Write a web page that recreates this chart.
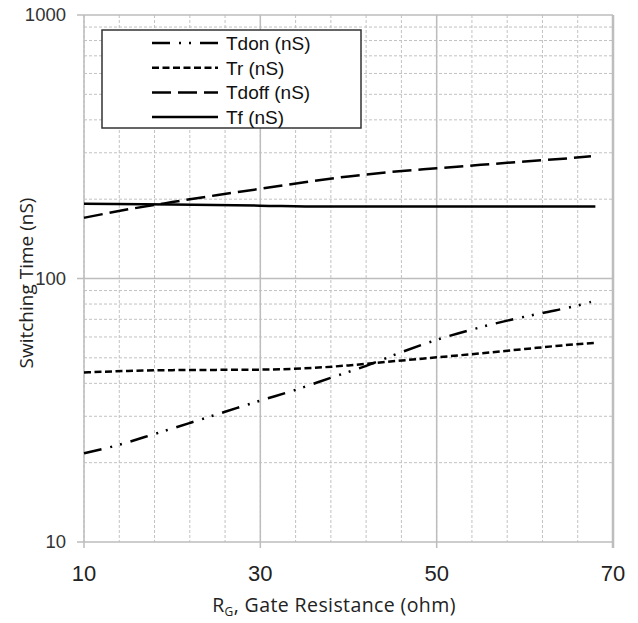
<!DOCTYPE html>
<html>
<head>
<meta charset="utf-8">
<script src="https://cdn.jsdelivr.net/npm/d3@7"></script>
<style>
  body { margin: 0; background: #fff; }
  svg { display: block; }
</style>
</head>
<body>
<div id="chart"></div>
<script>
// Data

var rgTdon = [10, 14, 18, 22, 26, 30, 34, 38, 42, 46, 50, 54, 58, 62, 66, 67.5]
var tdon = [21.7, 23.4, 25.7, 28.3, 31.2, 34.4, 37.8, 42, 46.6, 52.5, 58.5, 64, 69.2, 74, 79, 81.5]

var rgTr = [10, 15, 20, 25, 30, 35, 40, 45, 50, 55, 60, 65, 68]
var tr = [44.0, 44.6, 44.9, 45.0, 45.1, 45.6, 46.8, 48.5, 50.2, 52.0, 54.0, 56.0, 57.0]

var rgTdoff = [10, 15, 20, 25, 30, 35, 40, 45, 50, 55, 60, 65, 67.5]
var tdoff = [170, 183, 195, 207, 219, 232, 244, 254, 262, 270, 278, 286, 291]

var rgTf = [10, 20, 30, 37, 50, 68]
var tf = [192, 191, 189, 187.5, 187.5, 187.5]

var seriesNames = ['Tdon (nS)', 'Tr (nS)', 'Tdoff (nS)', 'Tf (nS)']
var xTicks = [10, 30, 50, 70]
var yTicks = [10, 100, 1000]

// Set up margin/height/width

var margin = { top: 15, left: 84, right: 25, bottom: 81 }
var width = 638 - margin.left - margin.right
var height = 623 - margin.top - margin.bottom

var svg = d3
  .select('#chart')
  .append('svg')
  .attr('width', 638)
  .attr('height', 623)

var g = svg
  .append('g')
  .attr('transform', 'translate(' + margin.left + ',' + margin.top + ')')

var xPositionScale = d3
  .scaleLinear()
  .domain([10, 70])
  .range([0, width])

var yPositionScale = d3
  .scaleLog()
  .domain([10, 1000])
  .range([height, 0])

// grid: minor dashed lines first

var xMinor = d3.range(10, 70.1, 4)
var yMinor = []
;[10, 100].forEach(function(base) {
  for (var k = 2; k <= 9; k++) yMinor.push(base * k)
})

g.selectAll('.x-minor')
  .data(xMinor)
  .enter()
  .append('line')
  .attr('class', 'x-minor')
  .attr('x1', d => xPositionScale(d))
  .attr('x2', d => xPositionScale(d))
  .attr('y1', 0)
  .attr('y2', height)
  .attr('stroke', '#c2c2c2')
  .attr('stroke-width', 1)
  .attr('stroke-dasharray', '3,2')

g.selectAll('.y-minor')
  .data(yMinor)
  .enter()
  .append('line')
  .attr('class', 'y-minor')
  .attr('x1', 0)
  .attr('x2', width)
  .attr('y1', d => yPositionScale(d))
  .attr('y2', d => yPositionScale(d))
  .attr('stroke', '#c2c2c2')
  .attr('stroke-width', 1)
  .attr('stroke-dasharray', '3,2')

// major solid lines

g.selectAll('.x-major')
  .data(xTicks)
  .enter()
  .append('line')
  .attr('class', 'x-major')
  .attr('x1', d => xPositionScale(d))
  .attr('x2', d => xPositionScale(d))
  .attr('y1', 0)
  .attr('y2', height + 6)
  .attr('stroke', '#bdbdbd')
  .attr('stroke-width', d => (d === 70 ? 2.5 : 1.5))

g.selectAll('.y-major')
  .data(yTicks)
  .enter()
  .append('line')
  .attr('class', 'y-major')
  .attr('x1', -7)
  .attr('x2', width)
  .attr('y1', d => yPositionScale(d))
  .attr('y2', d => yPositionScale(d))
  .attr('stroke', '#bdbdbd')
  .attr('stroke-width', 1.5)

// tick labels

g.selectAll('.x-label')
  .data(xTicks)
  .enter()
  .append('text')
  .attr('class', 'x-label')
  .text(d => d)
  .attr('x', d => xPositionScale(d))
  .attr('y', height + 39)
  .attr('text-anchor', 'middle')
  .attr('font-family', 'Liberation Sans, Arial, sans-serif')
  .attr('font-size', 22)
  .attr('fill', '#222')

g.selectAll('.y-label')
  .data(yTicks)
  .enter()
  .append('text')
  .attr('class', 'y-label')
  .text(d => d)
  .attr('x', -18)
  .attr('y', d => yPositionScale(d))
  .attr('dy', '0.35em')
  .attr('text-anchor', 'end')
  .attr('font-family', 'Liberation Sans, Arial, sans-serif')
  .attr('font-size', 18.5)
  .attr('fill', '#333')

// axis titles

var xTitle = svg
  .append('text')
  .attr('x', 334)
  .attr('y', 612)
  .attr('text-anchor', 'middle')
  .attr('font-family', 'Open Sans, sans-serif')
  .attr('font-size', 19.5)
  .attr('letter-spacing', 0.4)
  .attr('fill', '#222')
xTitle.append('tspan').text('R')
xTitle
  .append('tspan')
  .text('G')
  .attr('font-size', 12)
  .attr('dy', 4)
xTitle
  .append('tspan')
  .text(', Gate Resistance (ohm)')
  .attr('dy', -4)

svg
  .append('text')
  .text('Switching Time (nS)')
  .attr('transform', 'translate(33,283) rotate(-90)')
  .attr('text-anchor', 'middle')
  .attr('font-family', 'Open Sans, sans-serif')
  .attr('font-size', 19)
  .attr('fill', '#222')

// series lines

var series = [
  { name: seriesNames[0], xs: rgTdon, ys: tdon, dash: '18,9,2,8,2,9' },
  { name: seriesNames[1], xs: rgTr, ys: tr, dash: '7,3.5' },
  { name: seriesNames[2], xs: rgTdoff, ys: tdoff, dash: '19,7' },
  { name: seriesNames[3], xs: rgTf, ys: tf, dash: null }
]

var line = d3
  .line()
  .x(d => xPositionScale(d[0]))
  .y(d => yPositionScale(d[1]))
  .curve(d3.curveMonotoneX)

series.forEach(function(s) {
  var pts = s.xs.map((x, i) => [x, s.ys[i]])
  g.append('path')
    .datum(pts)
    .attr('d', line)
    .attr('fill', 'none')
    .attr('stroke', '#000')
    .attr('stroke-width', 2.5)
    .attr('stroke-dasharray', s.dash)
})

// legend

var legend = svg.append('g').attr('transform', 'translate(102,30)')

legend
  .append('rect')
  .attr('width', 259)
  .attr('height', 98)
  .attr('fill', '#fff')
  .attr('stroke', '#333')
  .attr('stroke-width', 1.5)

series.forEach(function(s, i) {
  var yy = 13 + i * 24.7
  legend
    .append('line')
    .attr('x1', 50)
    .attr('x2', 116)
    .attr('y1', yy)
    .attr('y2', yy)
    .attr('stroke', '#000')
    .attr('stroke-width', 2.5)
    .attr('stroke-dasharray', s.dash)
  legend
    .append('text')
    .text(s.name)
    .attr('x', 124)
    .attr('y', yy)
    .attr('dy', '0.36em')
    .attr('font-family', 'Liberation Sans, Arial, sans-serif')
    .attr('font-size', 19)
    .attr('fill', '#111')
})
</script>
</body>
</html>
